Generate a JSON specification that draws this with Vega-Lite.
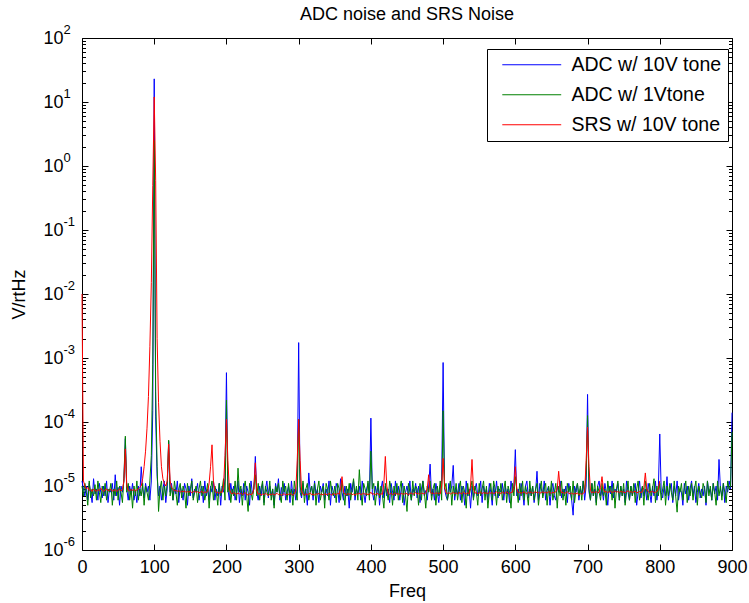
{
"$schema":"https://vega.github.io/schema/vega-lite/v6.json",
"width":650,"height":512,
"autosize":{"type":"none"},
"padding":{"left":82,"top":38,"right":17,"bottom":53},
"background":"white",
"config":{"font":"Liberation Sans","view":{"stroke":"#000","strokeWidth":1},
 "axis":{"grid":false,"domain":false,"labelColor":"#000","titleColor":"#000","tickColor":"#000","labelFontSize":18,"titleFontSize":18,"titleFontWeight":"normal","labelFlush":false}},
"title":{"text":"ADC noise and SRS Noise","fontSize":18,"fontWeight":"normal","color":"#000","anchor":"middle","frame":"group","baseline":"alphabetic","offset":4,"dy":19},
"datasets":{
"e":[{"f":0,"v":1e-6},{"f":900,"v":100}],
"d":[
{"f":0,"a":1.2e-5,"g":1e-5,"r":1e-2},{"f":2,"a":9e-6,"g":7e-6,"r":1.2e-5},{"f":4,"a":7e-6,"g":1.1e-5,"r":1e-5},{"f":6,"a":1e-5,"g":8e-6,"r":9e-6},{"f":8,"a":6e-6,"g":5e-6,"r":9.5e-6},
{"f":10,"a":1.1e-5,"g":1.2e-5,"r":8.5e-6},{"f":12,"a":8e-6,"g":6.5e-6,"r":8.8e-6},{"f":14,"a":5.5e-6,"g":9e-6,"r":8.2e-6},{"f":16,"a":1.3e-5,"g":7e-6,"r":9e-6},{"f":18,"a":7.5e-6,"g":1.05e-5,"r":8.5e-6},
{"f":20,"a":9e-6,"g":6e-6,"r":8.3e-6},{"f":22,"a":6e-6,"g":1.2e-5,"r":8.8e-6},{"f":24,"a":1.1e-5,"g":8e-6,"r":8.5e-6},{"f":26,"a":8e-6,"g":5.5e-6,"r":9.2e-6},{"f":28,"a":6.5e-6,"g":1e-5,"r":8.6e-6},
{"f":30,"a":1e-5,"g":7e-6,"r":8.2e-6},{"f":32,"a":7e-6,"g":1.1e-5,"r":8.7e-6},{"f":34,"a":1.2e-5,"g":6e-6,"r":9e-6},{"f":36,"a":5.5e-6,"g":9e-6,"r":8.4e-6},{"f":38,"a":9e-6,"g":8e-6,"r":8.6e-6},
{"f":40,"a":8e-6,"g":1.1e-5,"r":8.9e-6},{"f":42,"a":1.1e-5,"g":5e-6,"r":8.3e-6},{"f":44,"a":6e-6,"g":9e-6,"r":8.5e-6},{"f":46,"a":1.5e-5,"g":7e-6,"r":8.8e-6},{"f":48,"a":7e-6,"g":1.2e-5,"r":8.2e-6},
{"f":50,"a":9.5e-6,"g":6e-6,"r":8.6e-6},{"f":52,"a":5e-6,"g":1e-5,"r":9e-6},{"f":54,"a":1e-5,"g":8e-6,"r":8.4e-6},{"f":56,"a":8e-6,"g":5.5e-6,"r":8.7e-6},{"f":58,"a":1.2e-5,"g":1.3e-5,"r":1.2e-5},
{"f":60,"a":5.5e-5,"g":6e-5,"r":3.8e-5},{"f":62,"a":9e-6,"g":8e-6,"r":1e-5},{"f":64,"a":6e-6,"g":1.1e-5,"r":8.6e-6},{"f":66,"a":1e-5,"g":6e-6,"r":8.4e-6},{"f":68,"a":7.5e-6,"g":9e-6,"r":8.8e-6},
{"f":70,"a":1.1e-5,"g":4.5e-6,"r":8.5e-6},{"f":72,"a":6e-6,"g":1e-5,"r":8.9e-6},{"f":74,"a":8.5e-6,"g":7e-6,"r":8.3e-6},{"f":76,"a":5.5e-6,"g":1.2e-5,"r":8.7e-6},{"f":78,"a":1e-5,"g":6e-6,"r":9e-6},
{"f":80,"a":7e-6,"g":9e-6,"r":9.5e-6},{"f":82,"a":2e-5,"g":7e-6,"r":1e-5},{"f":84,"a":9e-6,"g":1.1e-5,"r":1.3e-5},{"f":86,"a":6.5e-6,"g":5e-6,"r":2e-5},{"f":88,"a":1.1e-5,"g":1e-5,"r":3.5e-5},
{"f":90,"a":8e-6,"g":8e-6,"r":8e-5},{"f":92,"a":1e-5,"g":6e-6,"r":2.5e-4},{"f":94,"a":6e-6,"g":1.2e-5,"r":1.5e-3},{"f":96,"a":1.2e-5,"g":3e-5,"r":1.5e-2},{"f":98,"a":1.5e-4,"g":8e-4,"r":0.5},
{"f":100,"a":23,"g":2.5,"r":12},{"f":102,"a":1.2e-4,"g":3e-4,"r":0.6},{"f":104,"a":1.4e-5,"g":2e-5,"r":2e-3},{"f":106,"a":7e-6,"g":4e-6,"r":2e-4},{"f":108,"a":1e-5,"g":9e-6,"r":5e-5},
{"f":110,"a":6e-6,"g":1.2e-5,"r":2e-5},{"f":112,"a":9e-6,"g":6e-6,"r":1.3e-5},{"f":114,"a":1.2e-5,"g":1e-5,"r":1.1e-5},{"f":116,"a":5.5e-6,"g":7e-6,"r":1e-5},{"f":118,"a":9e-6,"g":1.1e-5,"r":1.2e-5},
{"f":120,"a":5e-5,"g":5.2e-5,"r":4.5e-5},{"f":122,"a":8e-6,"g":7e-6,"r":1.2e-5},{"f":124,"a":1.1e-5,"g":1e-5,"r":9.5e-6},{"f":126,"a":6e-6,"g":6e-6,"r":8.8e-6},{"f":128,"a":9e-6,"g":1.2e-5,"r":8.4e-6},
{"f":130,"a":7.5e-6,"g":8e-6,"r":8.6e-6},{"f":132,"a":1.2e-5,"g":5e-6,"r":8.2e-6},{"f":134,"a":5.5e-6,"g":9e-6,"r":8.5e-6},{"f":136,"a":1e-5,"g":1.1e-5,"r":8e-6},{"f":138,"a":8e-6,"g":6.5e-6,"r":8.3e-6},
{"f":140,"a":6e-6,"g":1e-5,"r":8.1e-6},{"f":142,"a":1.1e-5,"g":8e-6,"r":8.4e-6},{"f":144,"a":9e-6,"g":4.5e-6,"r":7.9e-6},{"f":146,"a":5e-6,"g":1.1e-5,"r":8.2e-6},{"f":148,"a":1e-5,"g":7e-6,"r":8e-6},
{"f":150,"a":7e-6,"g":9e-6,"r":8.3e-6},{"f":152,"a":1.3e-5,"g":1.2e-5,"r":7.8e-6},{"f":154,"a":6.5e-6,"g":6e-6,"r":8.1e-6},{"f":156,"a":9e-6,"g":8e-6,"r":8.4e-6},{"f":158,"a":8e-6,"g":1e-5,"r":7.9e-6},
{"f":160,"a":1.1e-5,"g":5.5e-6,"r":8.2e-6},{"f":162,"a":6e-6,"g":9e-6,"r":7.8e-6},{"f":164,"a":8.5e-6,"g":1.2e-5,"r":8e-6},{"f":166,"a":1e-5,"g":7e-6,"r":8.3e-6},{"f":168,"a":5.5e-6,"g":1e-5,"r":7.7e-6},
{"f":170,"a":1.2e-5,"g":6e-6,"r":8.1e-6},{"f":172,"a":7e-6,"g":8e-6,"r":7.9e-6},{"f":174,"a":9e-6,"g":1.1e-5,"r":8.2e-6},{"f":176,"a":6e-6,"g":4.5e-6,"r":1.1e-5},{"f":178,"a":1e-5,"g":9e-6,"r":2e-5},
{"f":180,"a":8e-6,"g":1.2e-5,"r":4.4e-5},{"f":182,"a":1.2e-5,"g":6e-6,"r":1.2e-5},{"f":184,"a":6e-6,"g":1e-5,"r":8.4e-6},{"f":186,"a":9e-6,"g":8e-6,"r":7.8e-6},{"f":188,"a":7e-6,"g":5e-6,"r":8e-6},
{"f":190,"a":1.1e-5,"g":1.1e-5,"r":7.7e-6},{"f":192,"a":5e-6,"g":7e-6,"r":8.1e-6},{"f":194,"a":1e-5,"g":9e-6,"r":7.9e-6},{"f":196,"a":8e-6,"g":1.3e-5,"r":1e-5},{"f":198,"a":1.3e-5,"g":6e-6,"r":3e-5},
{"f":200,"a":5.9e-4,"g":2.2e-4,"r":1.1e-4},{"f":202,"a":9e-6,"g":8e-6,"r":2.5e-5},{"f":204,"a":6e-6,"g":1.1e-5,"r":9e-6},{"f":206,"a":1.1e-5,"g":5.5e-6,"r":7.8e-6},{"f":208,"a":7.5e-6,"g":9e-6,"r":7.5e-6},
{"f":210,"a":1e-5,"g":7e-6,"r":7.9e-6},{"f":212,"a":6e-6,"g":1.2e-5,"r":7.6e-6},{"f":214,"a":8e-6,"g":6e-6,"r":7.4e-6},{"f":216,"a":1.2e-5,"g":1.9e-5,"r":7.8e-6},{"f":218,"a":5.5e-6,"g":8e-6,"r":7.5e-6},
{"f":220,"a":9e-6,"g":1e-5,"r":7.7e-6},{"f":222,"a":7e-6,"g":5e-6,"r":7.3e-6},{"f":224,"a":1.1e-5,"g":9e-6,"r":7.6e-6},{"f":226,"a":6e-6,"g":1.2e-5,"r":7.9e-6},{"f":228,"a":1e-5,"g":7e-6,"r":7.4e-6},
{"f":230,"a":8e-6,"g":4e-6,"r":7.2e-6},{"f":232,"a":5e-6,"g":1.1e-5,"r":7.6e-6},{"f":234,"a":1.2e-5,"g":8e-6,"r":7.3e-6},{"f":236,"a":7.5e-6,"g":6e-6,"r":7.5e-6},{"f":238,"a":9e-6,"g":1e-5,"r":9e-6},
{"f":240,"a":2.9e-5,"g":1.5e-5,"r":2.3e-5},{"f":242,"a":8e-6,"g":7e-6,"r":8.5e-6},{"f":244,"a":6e-6,"g":1.1e-5,"r":7.4e-6},{"f":246,"a":1e-5,"g":6e-6,"r":7.6e-6},{"f":248,"a":7e-6,"g":9e-6,"r":7.2e-6},
{"f":250,"a":1.1e-5,"g":1.2e-5,"r":7.5e-6},{"f":252,"a":5.5e-6,"g":5e-6,"r":7.3e-6},{"f":254,"a":9e-6,"g":1e-5,"r":7.7e-6},{"f":256,"a":1.2e-5,"g":8e-6,"r":7.4e-6},{"f":258,"a":6.5e-6,"g":7e-6,"r":7.1e-6},
{"f":260,"a":1e-5,"g":1.2e-5,"r":7.5e-6},{"f":262,"a":7e-6,"g":6e-6,"r":7.3e-6},{"f":264,"a":9e-6,"g":9e-6,"r":7.6e-6},{"f":266,"a":5e-6,"g":4.5e-6,"r":7.2e-6},{"f":268,"a":1.1e-5,"g":1e-5,"r":7.4e-6},
{"f":270,"a":8e-6,"g":8e-6,"r":7.7e-6},{"f":272,"a":1.3e-5,"g":1.1e-5,"r":7.3e-6},{"f":274,"a":6e-6,"g":7e-6,"r":7.5e-6},{"f":276,"a":9.5e-6,"g":5.5e-6,"r":7.1e-6},{"f":278,"a":7e-6,"g":1.2e-5,"r":7.4e-6},
{"f":280,"a":1.1e-5,"g":8e-6,"r":7.6e-6},{"f":282,"a":6e-6,"g":1e-5,"r":7.2e-6},{"f":284,"a":8e-6,"g":6e-6,"r":7.5e-6},{"f":286,"a":1e-5,"g":1.1e-5,"r":7.3e-6},{"f":288,"a":5.5e-6,"g":7e-6,"r":7.7e-6},
{"f":290,"a":1.2e-5,"g":9e-6,"r":7.4e-6},{"f":292,"a":7e-6,"g":5e-6,"r":7.2e-6},{"f":294,"a":9e-6,"g":1.2e-5,"r":7.5e-6},{"f":296,"a":6e-6,"g":8e-6,"r":8.5e-6},{"f":298,"a":1e-5,"g":6e-6,"r":2.5e-5},
{"f":300,"a":1.74e-3,"g":1.1e-4,"r":1.1e-4},{"f":302,"a":8e-6,"g":1e-5,"r":2.5e-5},{"f":304,"a":6.5e-6,"g":7e-6,"r":8.5e-6},{"f":306,"a":1.1e-5,"g":1.2e-5,"r":7.4e-6},{"f":308,"a":7e-6,"g":5.5e-6,"r":7.2e-6},
{"f":310,"a":9e-6,"g":9e-6,"r":7.6e-6},{"f":312,"a":5e-6,"g":1.1e-5,"r":7.3e-6},{"f":314,"a":1.6e-5,"g":6e-6,"r":7.5e-6},{"f":316,"a":8e-6,"g":8e-6,"r":7.8e-6},{"f":318,"a":1e-5,"g":1e-5,"r":7.3e-6},
{"f":320,"a":6e-6,"g":7e-6,"r":7.5e-6},{"f":322,"a":1.2e-5,"g":1.1e-5,"r":7.2e-6},{"f":324,"a":7.5e-6,"g":5e-6,"r":7.6e-6},{"f":326,"a":9e-6,"g":9e-6,"r":7.4e-6},{"f":328,"a":5.5e-6,"g":1.2e-5,"r":7.7e-6},
{"f":330,"a":1e-5,"g":6e-6,"r":7.3e-6},{"f":332,"a":8e-6,"g":8e-6,"r":7.5e-6},{"f":334,"a":1.1e-5,"g":1e-5,"r":7.2e-6},{"f":336,"a":6e-6,"g":4.5e-6,"r":7.6e-6},{"f":338,"a":9e-6,"g":1.1e-5,"r":7.4e-6},
{"f":340,"a":7e-6,"g":9e-6,"r":7.3e-6},{"f":342,"a":1.2e-5,"g":6e-6,"r":7.7e-6},{"f":344,"a":5e-6,"g":1.2e-5,"r":7.4e-6},{"f":346,"a":1e-5,"g":8e-6,"r":7.2e-6},{"f":348,"a":8e-6,"g":7e-6,"r":7.6e-6},
{"f":350,"a":6.5e-6,"g":1e-5,"r":7.5e-6},{"f":352,"a":1.1e-5,"g":5.5e-6,"r":7.3e-6},{"f":354,"a":9e-6,"g":1.1e-5,"r":7.8e-6},{"f":356,"a":5.5e-6,"g":9e-6,"r":7.4e-6},{"f":358,"a":1.3e-5,"g":6e-6,"r":9e-6},
{"f":360,"a":8e-6,"g":1.2e-5,"r":1.4e-5},{"f":362,"a":6e-6,"g":8e-6,"r":8e-6},{"f":364,"a":1e-5,"g":5e-6,"r":7.5e-6},{"f":366,"a":7e-6,"g":1e-5,"r":7.3e-6},{"f":368,"a":9e-6,"g":7e-6,"r":7.6e-6},
{"f":370,"a":4.5e-6,"g":1.1e-5,"r":7.4e-6},{"f":372,"a":1.1e-5,"g":6e-6,"r":7.7e-6},{"f":374,"a":8e-6,"g":9e-6,"r":7.3e-6},{"f":376,"a":1.2e-5,"g":1.3e-5,"r":7.5e-6},{"f":378,"a":6e-6,"g":7e-6,"r":7.2e-6},
{"f":380,"a":9e-6,"g":1e-5,"r":7.6e-6},{"f":382,"a":7.5e-6,"g":6e-6,"r":7.4e-6},{"f":384,"a":1e-5,"g":1.8e-5,"r":7.8e-6},{"f":386,"a":6e-6,"g":8e-6,"r":7.3e-6},{"f":388,"a":1.2e-5,"g":5e-6,"r":7.5e-6},
{"f":390,"a":8e-6,"g":1.1e-5,"r":7.7e-6},{"f":392,"a":5.5e-6,"g":9e-6,"r":7.4e-6},{"f":394,"a":9e-6,"g":7e-6,"r":7.6e-6},{"f":396,"a":1.1e-5,"g":1.2e-5,"r":7.3e-6},{"f":398,"a":7e-6,"g":6e-6,"r":7.5e-6},
{"f":400,"a":1.15e-4,"g":3.5e-5,"r":8e-6},{"f":402,"a":8e-6,"g":9e-6,"r":7.4e-6},{"f":404,"a":6e-6,"g":1.1e-5,"r":7.6e-6},{"f":406,"a":1e-5,"g":5e-6,"r":7.3e-6},{"f":408,"a":7e-6,"g":8e-6,"r":7.7e-6},
{"f":410,"a":1.1e-5,"g":1.2e-5,"r":7.5e-6},{"f":412,"a":5e-6,"g":6.5e-6,"r":7.2e-6},{"f":414,"a":9e-6,"g":1e-5,"r":7.6e-6},{"f":416,"a":1.2e-5,"g":7e-6,"r":7.4e-6},{"f":418,"a":6.5e-6,"g":4.5e-6,"r":1.1e-5},
{"f":420,"a":1e-5,"g":1.1e-5,"r":2.9e-5},{"f":422,"a":7e-6,"g":8e-6,"r":1e-5},{"f":424,"a":9e-6,"g":6e-6,"r":7.6e-6},{"f":426,"a":5.5e-6,"g":1.2e-5,"r":7.4e-6},{"f":428,"a":1.1e-5,"g":9e-6,"r":7.7e-6},
{"f":430,"a":8e-6,"g":5e-6,"r":7.3e-6},{"f":432,"a":6e-6,"g":1e-5,"r":7.5e-6},{"f":434,"a":1.2e-5,"g":7e-6,"r":7.8e-6},{"f":436,"a":7.5e-6,"g":1.1e-5,"r":7.4e-6},{"f":438,"a":1e-5,"g":6e-6,"r":7.6e-6},
{"f":440,"a":6e-6,"g":9e-6,"r":7.3e-6},{"f":442,"a":9e-6,"g":1.2e-5,"r":7.7e-6},{"f":444,"a":1.1e-5,"g":5.5e-6,"r":7.5e-6},{"f":446,"a":5e-6,"g":1e-5,"r":7.4e-6},{"f":448,"a":8e-6,"g":7e-6,"r":7.8e-6},
{"f":450,"a":1e-5,"g":4e-6,"r":7.5e-6},{"f":452,"a":7e-6,"g":1.1e-5,"r":7.3e-6},{"f":454,"a":1.2e-5,"g":8e-6,"r":7.6e-6},{"f":456,"a":6e-6,"g":6e-6,"r":7.8e-6},{"f":458,"a":9e-6,"g":1.2e-5,"r":7.4e-6},
{"f":460,"a":8e-6,"g":7e-6,"r":7.6e-6},{"f":462,"a":1.1e-5,"g":1e-5,"r":7.9e-6},{"f":464,"a":6.5e-6,"g":9e-6,"r":7.5e-6},{"f":466,"a":1e-5,"g":5e-6,"r":7.7e-6},{"f":468,"a":5.5e-6,"g":1.1e-5,"r":7.4e-6},
{"f":470,"a":9e-6,"g":6e-6,"r":7.8e-6},{"f":472,"a":1.2e-5,"g":1.2e-5,"r":7.6e-6},{"f":474,"a":7e-6,"g":8e-6,"r":7.5e-6},{"f":476,"a":8.5e-6,"g":4.5e-6,"r":7.9e-6},{"f":478,"a":6e-6,"g":1e-5,"r":9e-6},
{"f":480,"a":1e-5,"g":8e-6,"r":1.5e-5},{"f":482,"a":2.2e-5,"g":1.2e-5,"r":8.2e-6},{"f":484,"a":7e-6,"g":6e-6,"r":7.6e-6},{"f":486,"a":9e-6,"g":9e-6,"r":7.8e-6},{"f":488,"a":6e-6,"g":1.1e-5,"r":7.5e-6},
{"f":490,"a":1.1e-5,"g":5e-6,"r":7.9e-6},{"f":492,"a":8e-6,"g":1e-5,"r":7.6e-6},{"f":494,"a":5.5e-6,"g":7e-6,"r":7.8e-6},{"f":496,"a":1e-5,"g":1.2e-5,"r":7.5e-6},{"f":498,"a":1.2e-5,"g":6e-6,"r":1e-5},
{"f":500,"a":8.5e-4,"g":1.5e-4,"r":2.7e-5},{"f":502,"a":9e-6,"g":9e-6,"r":1e-5},{"f":504,"a":7e-6,"g":1.1e-5,"r":7.8e-6},{"f":506,"a":6e-6,"g":6e-6,"r":7.6e-6},{"f":508,"a":1.1e-5,"g":8e-6,"r":7.9e-6},
{"f":510,"a":8e-6,"g":1.2e-5,"r":7.5e-6},{"f":512,"a":1e-5,"g":5e-6,"r":7.7e-6},{"f":514,"a":2.1e-5,"g":1e-5,"r":7.9e-6},{"f":516,"a":6e-6,"g":7e-6,"r":7.6e-6},{"f":518,"a":9e-6,"g":1.1e-5,"r":7.8e-6},
{"f":520,"a":7.5e-6,"g":6e-6,"r":7.5e-6},{"f":522,"a":1.1e-5,"g":9e-6,"r":7.9e-6},{"f":524,"a":6e-6,"g":1.2e-5,"r":7.7e-6},{"f":526,"a":1e-5,"g":5.5e-6,"r":7.6e-6},{"f":528,"a":8e-6,"g":1e-5,"r":8e-6},
{"f":530,"a":5e-6,"g":8e-6,"r":7.7e-6},{"f":532,"a":1.2e-5,"g":4.5e-6,"r":7.5e-6},{"f":534,"a":7e-6,"g":1.1e-5,"r":7.8e-6},{"f":536,"a":9e-6,"g":7e-6,"r":7.6e-6},{"f":538,"a":4.5e-6,"g":9e-6,"r":1e-5},
{"f":540,"a":1e-5,"g":1.2e-5,"r":2.6e-5},{"f":542,"a":6.5e-6,"g":6e-6,"r":9e-6},{"f":544,"a":9e-6,"g":1e-5,"r":7.7e-6},{"f":546,"a":1.1e-5,"g":8e-6,"r":7.9e-6},{"f":548,"a":7e-6,"g":5e-6,"r":7.6e-6},
{"f":550,"a":8e-6,"g":1.1e-5,"r":7.8e-6},{"f":552,"a":1.2e-5,"g":7e-6,"r":8e-6},{"f":554,"a":5.5e-6,"g":9e-6,"r":7.6e-6},{"f":556,"a":1e-5,"g":1.2e-5,"r":7.9e-6},{"f":558,"a":7.5e-6,"g":6e-6,"r":7.7e-6},
{"f":560,"a":9e-6,"g":1e-5,"r":7.8e-6},{"f":562,"a":6e-6,"g":4.5e-6,"r":7.6e-6},{"f":564,"a":1.1e-5,"g":8e-6,"r":8e-6},{"f":566,"a":8e-6,"g":1.1e-5,"r":7.7e-6},{"f":568,"a":5e-6,"g":6e-6,"r":7.9e-6},
{"f":570,"a":1e-5,"g":1.2e-5,"r":7.6e-6},{"f":572,"a":7e-6,"g":9e-6,"r":7.8e-6},{"f":574,"a":1.2e-5,"g":5e-6,"r":8.1e-6},{"f":576,"a":6.5e-6,"g":1e-5,"r":7.7e-6},{"f":578,"a":9e-6,"g":7e-6,"r":7.9e-6},
{"f":580,"a":8e-6,"g":1.1e-5,"r":7.6e-6},{"f":582,"a":1.1e-5,"g":6e-6,"r":8e-6},{"f":584,"a":6e-6,"g":9e-6,"r":7.8e-6},{"f":586,"a":1e-5,"g":1.2e-5,"r":7.7e-6},{"f":588,"a":7.5e-6,"g":5.5e-6,"r":8.1e-6},
{"f":590,"a":9e-6,"g":1e-5,"r":7.8e-6},{"f":592,"a":5.5e-6,"g":8e-6,"r":7.6e-6},{"f":594,"a":1.2e-5,"g":4.5e-6,"r":7.9e-6},{"f":596,"a":8e-6,"g":1.1e-5,"r":8e-6},{"f":598,"a":1e-5,"g":7e-6,"r":9.5e-6},
{"f":600,"a":3.7e-5,"g":1.4e-5,"r":2e-5},{"f":602,"a":7e-6,"g":9e-6,"r":9e-6},{"f":604,"a":9e-6,"g":5.5e-6,"r":7.8e-6},{"f":606,"a":6e-6,"g":1.1e-5,"r":8e-6},{"f":608,"a":1.1e-5,"g":7e-6,"r":7.7e-6},
{"f":610,"a":8e-6,"g":1.2e-5,"r":7.9e-6},{"f":612,"a":5e-6,"g":6e-6,"r":8.1e-6},{"f":614,"a":1e-5,"g":1e-5,"r":7.8e-6},{"f":616,"a":1.2e-5,"g":8e-6,"r":7.6e-6},{"f":618,"a":6.5e-6,"g":5e-6,"r":8e-6},
{"f":620,"a":9e-6,"g":1.2e-5,"r":7.8e-6},{"f":622,"a":7e-6,"g":7e-6,"r":8.1e-6},{"f":624,"a":1e-5,"g":1e-5,"r":7.7e-6},{"f":626,"a":5.5e-6,"g":6e-6,"r":7.9e-6},{"f":628,"a":8e-6,"g":9e-6,"r":8.2e-6},
{"f":630,"a":1.7e-5,"g":1.1e-5,"r":7.8e-6},{"f":632,"a":6e-6,"g":5e-6,"r":8e-6},{"f":634,"a":1.1e-5,"g":8e-6,"r":7.7e-6},{"f":636,"a":9e-6,"g":1.2e-5,"r":7.9e-6},{"f":638,"a":7e-6,"g":6.5e-6,"r":8.1e-6},
{"f":640,"a":1.2e-5,"g":9e-6,"r":7.8e-6},{"f":642,"a":6e-6,"g":1.1e-5,"r":8e-6},{"f":644,"a":8.5e-6,"g":5e-6,"r":7.7e-6},{"f":646,"a":1e-5,"g":1e-5,"r":8.2e-6},{"f":648,"a":5e-6,"g":7e-6,"r":7.9e-6},
{"f":650,"a":9e-6,"g":1.2e-5,"r":7.7e-6},{"f":652,"a":1.1e-5,"g":6e-6,"r":8e-6},{"f":654,"a":7e-6,"g":8e-6,"r":7.8e-6},{"f":656,"a":6e-6,"g":1.1e-5,"r":8.1e-6},{"f":658,"a":1e-5,"g":4.5e-6,"r":9e-6},
{"f":660,"a":8e-6,"g":1e-5,"r":1.7e-5},{"f":662,"a":1.2e-5,"g":7e-6,"r":9e-6},{"f":664,"a":6.5e-6,"g":1.2e-5,"r":7.8e-6},{"f":666,"a":9e-6,"g":6e-6,"r":8e-6},{"f":668,"a":7e-6,"g":9e-6,"r":7.6e-6},
{"f":670,"a":1e-5,"g":5e-6,"r":7.9e-6},{"f":672,"a":5.5e-6,"g":1.1e-5,"r":8.1e-6},{"f":674,"a":1.1e-5,"g":8e-6,"r":7.7e-6},{"f":676,"a":8e-6,"g":1e-5,"r":7.5e-6},{"f":678,"a":6e-6,"g":6e-6,"r":7.8e-6},
{"f":680,"a":3.5e-6,"g":1.2e-5,"r":7.4e-6},{"f":682,"a":1e-5,"g":5.5e-6,"r":7.7e-6},{"f":684,"a":8e-6,"g":9e-6,"r":7.5e-6},{"f":686,"a":1.1e-5,"g":1.1e-5,"r":7.8e-6},{"f":688,"a":6e-6,"g":7e-6,"r":7.3e-6},
{"f":690,"a":9e-6,"g":1e-5,"r":7.6e-6},{"f":692,"a":7.5e-6,"g":6e-6,"r":7.4e-6},{"f":694,"a":1.2e-5,"g":1.2e-5,"r":7.7e-6},{"f":696,"a":6e-6,"g":8e-6,"r":7.9e-6},{"f":698,"a":1e-5,"g":1.5e-5,"r":2.5e-5},
{"f":700,"a":2.7e-4,"g":1.26e-4,"r":8.3e-5},{"f":702,"a":8e-6,"g":9e-6,"r":2e-5},{"f":704,"a":6e-6,"g":6e-6,"r":8.5e-6},{"f":706,"a":1.1e-5,"g":1.1e-5,"r":7.8e-6},{"f":708,"a":7e-6,"g":7e-6,"r":8.1e-6},
{"f":710,"a":9e-6,"g":1.2e-5,"r":7.9e-6},{"f":712,"a":5.5e-6,"g":5e-6,"r":8.2e-6},{"f":714,"a":1e-5,"g":1e-5,"r":7.8e-6},{"f":716,"a":1.2e-5,"g":8e-6,"r":8e-6},{"f":718,"a":7e-6,"g":6e-6,"r":9.5e-6},
{"f":720,"a":9e-6,"g":1.1e-5,"r":1.4e-5},{"f":722,"a":6e-6,"g":7e-6,"r":8.8e-6},{"f":724,"a":1.1e-5,"g":9e-6,"r":8e-6},{"f":726,"a":8e-6,"g":5e-6,"r":8.2e-6},{"f":728,"a":5e-6,"g":1.2e-5,"r":7.9e-6},
{"f":730,"a":1e-5,"g":8e-6,"r":8.1e-6},{"f":732,"a":7.5e-6,"g":1e-5,"r":8.3e-6},{"f":734,"a":1.2e-5,"g":6e-6,"r":7.9e-6},{"f":736,"a":6.5e-6,"g":1.1e-5,"r":8.1e-6},{"f":738,"a":9e-6,"g":4.5e-6,"r":8.4e-6},
{"f":740,"a":8e-6,"g":9e-6,"r":8e-6},{"f":742,"a":1.1e-5,"g":1.2e-5,"r":8.2e-6},{"f":744,"a":6e-6,"g":6e-6,"r":7.9e-6},{"f":746,"a":1e-5,"g":1e-5,"r":8.3e-6},{"f":748,"a":7e-6,"g":7e-6,"r":8e-6},
{"f":750,"a":9e-6,"g":1.1e-5,"r":8.1e-6},{"f":752,"a":5.5e-6,"g":5e-6,"r":7.8e-6},{"f":754,"a":1.2e-5,"g":8e-6,"r":8.2e-6},{"f":756,"a":8e-6,"g":1.2e-5,"r":8.4e-6},{"f":758,"a":6e-6,"g":6e-6,"r":8e-6},
{"f":760,"a":1e-5,"g":1e-5,"r":8.2e-6},{"f":762,"a":7e-6,"g":7e-6,"r":7.9e-6},{"f":764,"a":9e-6,"g":1.1e-5,"r":8.1e-6},{"f":766,"a":1.1e-5,"g":5.5e-6,"r":8.3e-6},{"f":768,"a":5e-6,"g":9e-6,"r":7.8e-6},
{"f":770,"a":8e-6,"g":1.2e-5,"r":8e-6},{"f":772,"a":1.2e-5,"g":6e-6,"r":8.2e-6},{"f":774,"a":6.5e-6,"g":8e-6,"r":7.9e-6},{"f":776,"a":1e-5,"g":1e-5,"r":8.1e-6},{"f":778,"a":7e-6,"g":5e-6,"r":9.5e-6},
{"f":780,"a":9e-6,"g":1.2e-5,"r":1.6e-5},{"f":782,"a":6e-6,"g":8e-6,"r":9e-6},{"f":784,"a":1.1e-5,"g":6e-6,"r":8.2e-6},{"f":786,"a":8e-6,"g":1.1e-5,"r":7.9e-6},{"f":788,"a":5.5e-6,"g":7e-6,"r":8.1e-6},
{"f":790,"a":1e-5,"g":9e-6,"r":8.3e-6},{"f":792,"a":7e-6,"g":1.3e-5,"r":7.8e-6},{"f":794,"a":1.2e-5,"g":5.5e-6,"r":8e-6},{"f":796,"a":6e-6,"g":1e-5,"r":8.2e-6},{"f":798,"a":9e-6,"g":7e-6,"r":9e-6},
{"f":800,"a":6.5e-5,"g":1.1e-5,"r":1.2e-5},{"f":802,"a":8e-6,"g":6e-6},{"f":804,"a":6.5e-6,"g":9e-6},{"f":806,"a":1e-5,"g":1.2e-5},{"f":808,"a":7e-6,"g":5e-6},
{"f":810,"a":1.4e-5,"g":1e-5},{"f":812,"a":6e-6,"g":7e-6},{"f":814,"a":9e-6,"g":1.1e-5},{"f":816,"a":1.1e-5,"g":8e-6},{"f":818,"a":5.5e-6,"g":6e-6},
{"f":820,"a":1e-5,"g":1.2e-5},{"f":822,"a":7e-6,"g":7e-6},{"f":824,"a":1.2e-5,"g":3.9e-6},{"f":826,"a":6e-6,"g":1e-5},{"f":828,"a":9e-6,"g":8e-6},
{"f":830,"a":8e-6,"g":1.1e-5},{"f":832,"a":5e-6,"g":6e-6},{"f":834,"a":1.1e-5,"g":9e-6},{"f":836,"a":7.5e-6,"g":1.2e-5},{"f":838,"a":1e-5,"g":5.5e-6},
{"f":840,"a":6e-6,"g":1e-5},{"f":842,"a":9e-6,"g":7e-6},{"f":844,"a":1.2e-5,"g":1.1e-5},{"f":846,"a":7e-6,"g":6e-6},{"f":848,"a":1e-5,"g":9e-6},
{"f":850,"a":5.5e-6,"g":1.2e-5},{"f":852,"a":8e-6,"g":5e-6},{"f":854,"a":1.1e-5,"g":1e-5},{"f":856,"a":6.5e-6,"g":8e-6},{"f":858,"a":9e-6,"g":6.5e-6},
{"f":860,"a":7e-6,"g":1.1e-5},{"f":862,"a":1e-5,"g":9e-6},{"f":864,"a":5e-6,"g":5.5e-6},{"f":866,"a":1.2e-5,"g":1.2e-5},{"f":868,"a":8e-6,"g":7e-6},
{"f":870,"a":9e-6,"g":1e-5},{"f":872,"a":6e-6,"g":6e-6},{"f":874,"a":1.1e-5,"g":1.1e-5},{"f":876,"a":7.5e-6,"g":8e-6},{"f":878,"a":1e-5,"g":5e-6},
{"f":880,"a":6e-6,"g":1.2e-5},{"f":882,"a":2.6e-5,"g":7e-6},{"f":884,"a":9e-6,"g":1e-5},{"f":886,"a":7e-6,"g":6e-6},{"f":888,"a":1.1e-5,"g":1.1e-5},
{"f":890,"a":5.5e-6,"g":8e-6},{"f":892,"a":1e-5,"g":5.5e-6},{"f":894,"a":8e-6,"g":1.2e-5},{"f":896,"a":1.2e-5,"g":9e-6},{"f":898,"a":9e-6,"g":1e-5},
{"f":900,"a":1.4e-4,"g":7e-5}
]},
"layer":[
{"data":{"name":"d"},"mark":{"type":"line","strokeWidth":1},
 "encoding":{
  "x":{"field":"f","type":"quantitative","scale":{"domain":[0,900],"nice":false,"zero":false},
   "axis":{"orient":"bottom","values":[0,100,200,300,400,500,600,700,800,900],"ticks":false,"labelPadding":8,"title":"Freq","titlePadding":6}},
  "y":{"field":"a","type":"quantitative","scale":{"type":"log","domain":[1e-6,100],"nice":false},
   "axis":{"orient":"left","values":[1e-6,1e-5,1e-4,1e-3,1e-2,1e-1,1,10,100],"labelExpr":"'10'","ticks":false,"labelPadding":19,"labelAlign":"right","labelBaseline":"middle","title":"V/rtHz","titlePadding":14}},
  "color":{"datum":"ADC w/ 10V tone","type":"nominal",
   "scale":{"domain":["ADC w/ 10V tone","ADC w/ 1Vtone","SRS w/ 10V tone"],"range":["#0000ff","#008000","#ff0000"]},
   "legend":{"title":null,"orient":"none","legendX":405,"legendY":11,"symbolType":"M-4,0H4","symbolSize":217,"symbolStrokeWidth":1,"symbolOffset":29,"labelOffset":30,"labelFontSize":19.5,"labelColor":"#000","padding":6,"rowPadding":9,"strokeColor":"#000","fillColor":"#fff","labelLimit":400}}
 }},
{"data":{"name":"d"},"mark":{"type":"line","strokeWidth":1},
 "encoding":{
  "x":{"field":"f","type":"quantitative","scale":{"domain":[0,900],"nice":false,"zero":false},"axis":null},
  "y":{"field":"g","type":"quantitative","scale":{"type":"log","domain":[1e-6,100],"nice":false},"axis":null},
  "color":{"datum":"ADC w/ 1Vtone","type":"nominal"}
 }},
{"data":{"name":"d"},"mark":{"type":"line","strokeWidth":1},
 "encoding":{
  "x":{"field":"f","type":"quantitative","scale":{"domain":[0,900],"nice":false,"zero":false},"axis":null},
  "y":{"field":"r","type":"quantitative","scale":{"type":"log","domain":[1e-6,100],"nice":false},"axis":null},
  "color":{"datum":"SRS w/ 10V tone","type":"nominal"}
 }},
{"data":{"name":"e"},"mark":{"type":"point","opacity":0},
 "encoding":{
  "x":{"field":"f","type":"quantitative","scale":{"domain":[0,900],"nice":false,"zero":false},
   "axis":{"orient":"top","offset":-512,"values":[0,100,200,300,400,500,600,700,800,900],"labels":false,"tickSize":6,"title":null}},
  "y":{"field":"v","type":"quantitative","scale":{"type":"log","domain":[1e-6,100],"nice":false},
   "axis":{"orient":"right","offset":-650,"values":[1e-6,1e-5,1e-4,1e-3,1e-2,1e-1,1,10,100],"labels":false,"tickSize":6,"title":null}}
 }},
{"data":{"name":"e"},"mark":{"type":"point","opacity":0},
 "encoding":{
  "x":{"field":"f","type":"quantitative","scale":{"domain":[0,900],"nice":false,"zero":false},
   "axis":{"orient":"bottom","offset":-512,"values":[0,100,200,300,400,500,600,700,800,900],"labels":false,"tickSize":6,"title":null}},
  "y":{"field":"v","type":"quantitative","scale":{"type":"log","domain":[1e-6,100],"nice":false},
   "axis":{"orient":"left","offset":-650,"values":[1e-6,1e-5,1e-4,1e-3,1e-2,1e-1,1,10,100],"labels":false,"tickSize":6,"title":null}}
 }},
{"data":{"name":"e"},"mark":{"type":"point","opacity":0},
 "encoding":{
  "x":{"field":"f","type":"quantitative","scale":{"domain":[0,900],"nice":false,"zero":false},"axis":null},
  "y":{"field":"v","type":"quantitative","scale":{"type":"log","domain":[1e-6,100],"nice":false},
   "axis":{"orient":"right","offset":-650,"values":[2e-6,3e-6,4e-6,5e-6,6e-6,7e-6,8e-6,9e-6,2e-5,3e-5,4e-5,5e-5,6e-5,7e-5,8e-5,9e-5,2e-4,3e-4,4e-4,5e-4,6e-4,7e-4,8e-4,9e-4,2e-3,3e-3,4e-3,5e-3,6e-3,7e-3,8e-3,9e-3,0.02,0.03,0.04,0.05,0.06,0.07,0.08,0.09,0.2,0.3,0.4,0.5,0.6,0.7,0.8,0.9,2,3,4,5,6,7,8,9,20,30,40,50,60,70,80,90],"labels":false,"tickSize":3.5,"title":null}}
 }},
{"data":{"name":"e"},"mark":{"type":"point","opacity":0},
 "encoding":{
  "x":{"field":"f","type":"quantitative","scale":{"domain":[0,900],"nice":false,"zero":false},"axis":null},
  "y":{"field":"v","type":"quantitative","scale":{"type":"log","domain":[1e-6,100],"nice":false},
   "axis":{"orient":"left","offset":-650,"values":[2e-6,3e-6,4e-6,5e-6,6e-6,7e-6,8e-6,9e-6,2e-5,3e-5,4e-5,5e-5,6e-5,7e-5,8e-5,9e-5,2e-4,3e-4,4e-4,5e-4,6e-4,7e-4,8e-4,9e-4,2e-3,3e-3,4e-3,5e-3,6e-3,7e-3,8e-3,9e-3,0.02,0.03,0.04,0.05,0.06,0.07,0.08,0.09,0.2,0.3,0.4,0.5,0.6,0.7,0.8,0.9,2,3,4,5,6,7,8,9,20,30,40,50,60,70,80,90],"labels":false,"tickSize":3.5,"title":null}}
 }},
{"data":{"name":"e"},"mark":{"type":"point","opacity":0},
 "encoding":{
  "x":{"field":"f","type":"quantitative","scale":{"domain":[0,900],"nice":false,"zero":false},"axis":null},
  "y":{"field":"v","type":"quantitative","scale":{"type":"log","domain":[1e-6,100],"nice":false},
   "axis":{"orient":"left","values":[1e-6,1e-5,1e-4,1e-3,1e-2,1e-1,1,10,100],"labelExpr":"''+round(log(datum.value)/LN10)","ticks":false,"labelPadding":19,"labelAlign":"left","labelBaseline":"middle","labelFontSize":13,"labelOffset":-9,"title":null}}
 }}
],
"resolve":{"axis":{"x":"independent","y":"independent"}}
}
